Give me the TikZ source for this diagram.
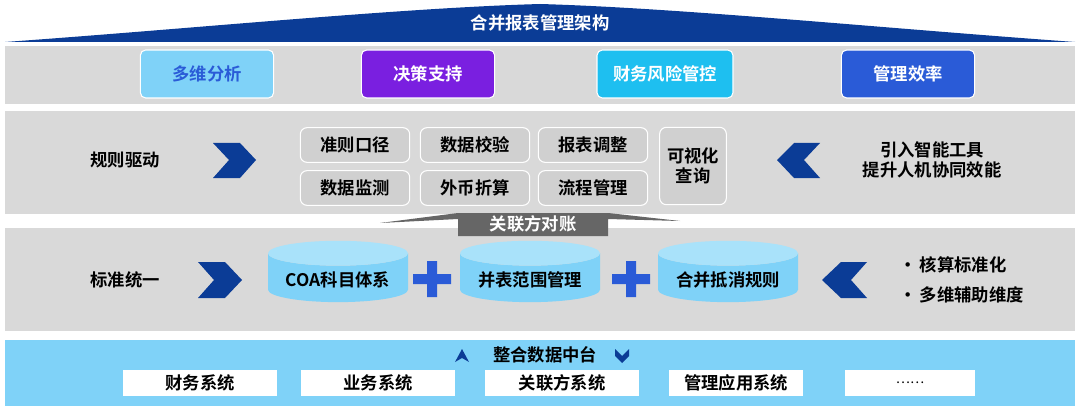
\documentclass[tikz,border=0pt]{standalone}
\usepackage{fontspec}
\setmainfont{Noto Sans CJK SC}[BoldFont={Noto Sans CJK SC Bold}]
\usetikzlibrary{shapes.geometric}
\definecolor{navy}{HTML}{0B3C96}
\definecolor{band}{HTML}{D9D9D9}
\definecolor{cell}{HTML}{D0D0D0}
\definecolor{sky}{HTML}{7FD2F8}
\definecolor{skytop}{HTML}{A9E2FA}
\definecolor{plusblue}{HTML}{2A5BD7}
\definecolor{purp}{HTML}{7A1FE0}
\definecolor{cyanbox}{HTML}{1EBFF0}
\begin{document}
\begin{tikzpicture}[x=0.75pt,y=-0.75pt,font=\bfseries\fontsize{13}{15}\selectfont,
    band/.style={fill=band,draw=none},
    top box/.style={rounded corners=4pt,minimum height=36pt,minimum width=100pt,draw=white,line width=0.8pt},
    rule cell/.style={rounded corners=5pt,fill=cell,draw=white,line width=0.8pt,minimum height=26pt,minimum width=82pt},
    db/.style={cylinder,shape border rotate=90,aspect=0.22,minimum width=105pt,minimum height=46pt,
      cylinder uses custom fill,cylinder body fill=sky,cylinder end fill=skytop,draw=none},
    src box/.style={fill=white,minimum height=20pt,minimum width=116pt,inner sep=0pt},
    chev/.style={fill=navy}]
  \useasboundingbox (0,0) rectangle (1080,406);
  % banner
  \fill[navy] (5,42) .. controls (200,28) and (400,8) .. (540,4) .. controls (680,8) and (880,28) .. (1075,42) -- cycle;
  \node[text=white] (title) at (540,23) {合并报表管理架构};
  % bands
  \fill[band] (5,46) rectangle (1075,104);
  \fill[band] (5,111) rectangle (1075,214);
  \fill[band] (5,228) rectangle (1075,331);
  \fill[sky] (5,340) rectangle (1075,406);
  % goals
  \node[top box,fill=sky,text=plusblue] (analysis) at (207,74) {多维分析};
  \node[top box,fill=purp,text=white] (decision) at (428,74) {决策支持};
  \node[top box,fill=cyanbox,text=white,minimum width=102pt] (risk) at (665,74) {财务风险管控};
  \node[top box,fill=plusblue,text=white] (efficiency) at (908,74) {管理效率};
  % rules
  \node (ruledrive) at (125,160) {规则驱动};
  \fill[chev] (213,143) -- (240,143) -- (256,160) -- (240,178) -- (213,178) -- (229,160) -- cycle;
  \node[rule cell] (caliber) at (355,145) {准则口径};
  \node[rule cell] (check) at (475,145) {数据校验};
  \node[rule cell] (adjust) at (593,145) {报表调整};
  \node[rule cell] (monitor) at (355,188) {数据监测};
  \node[rule cell] (fx) at (475,188) {外币折算};
  \node[rule cell] (flow) at (593,188) {流程管理};
  \node[rule cell,minimum width=50pt,minimum height=58pt,align=center] (visual) at (693,166) {可视化\\查询};
  \fill[chev] (820,143) -- (794,143) -- (777,160) -- (794,178) -- (820,178) -- (804,160) -- cycle;
  \node[align=center] (ai) at (932,160) {引入智能工具\\提升人机协同效能};
  % reconciliation tab
  \fill[gray!80!black] (380,223) -- (458,213) -- (608,213) -- (680,221) -- (608,219) -- (608,236) -- (458,236) -- (458,219) -- cycle;
  \node[text=white] (related) at (533,224) {关联方对账};
  % standards
  \node (standard) at (125,280) {标准统一};
  \fill[chev] (198,262) -- (225,262) -- (242,280) -- (225,298) -- (198,298) -- (214,280) -- cycle;
  \node[db] (coa) at (338,280) {COA科目体系};
  \node[db] (scope) at (530,280) {并表范围管理};
  \node[db] (elim) at (728,280) {合并抵消规则};
  \foreach \px in {432,631}
    \fill[plusblue] (\px-19,274) rectangle (\px+19,284) (\px-5,261) rectangle (\px+5,297);
  \fill[chev] (867,262) -- (841,262) -- (822,280) -- (841,298) -- (867,298) -- (851,280) -- cycle;
  \node[anchor=west] (norm) at (895,265) {·\,核算标准化};
  \node[anchor=west] (dims) at (895,295) {·\,多维辅助维度};
  % data platform
  \node (platform) at (545,355) {整合数据中台};
  \fill[navy] (455,362) -- (462,349) -- (469,362) -- (462,358) -- cycle;
  \fill[navy] (615,349) -- (622,356) -- (629,349) -- (629,356) -- (622,363) -- (615,356) -- cycle;
  \node[src box] (fin) at (200,383) {财务系统};
  \node[src box] (biz) at (378,383) {业务系统};
  \node[src box] (rel) at (562,383) {关联方系统};
  \node[src box,minimum width=101pt] (mgmt) at (736,383) {管理应用系统};
  \node[src box,minimum width=97pt,font=\normalfont] (more) at (910,383) {……};
\end{tikzpicture}
\end{document}
